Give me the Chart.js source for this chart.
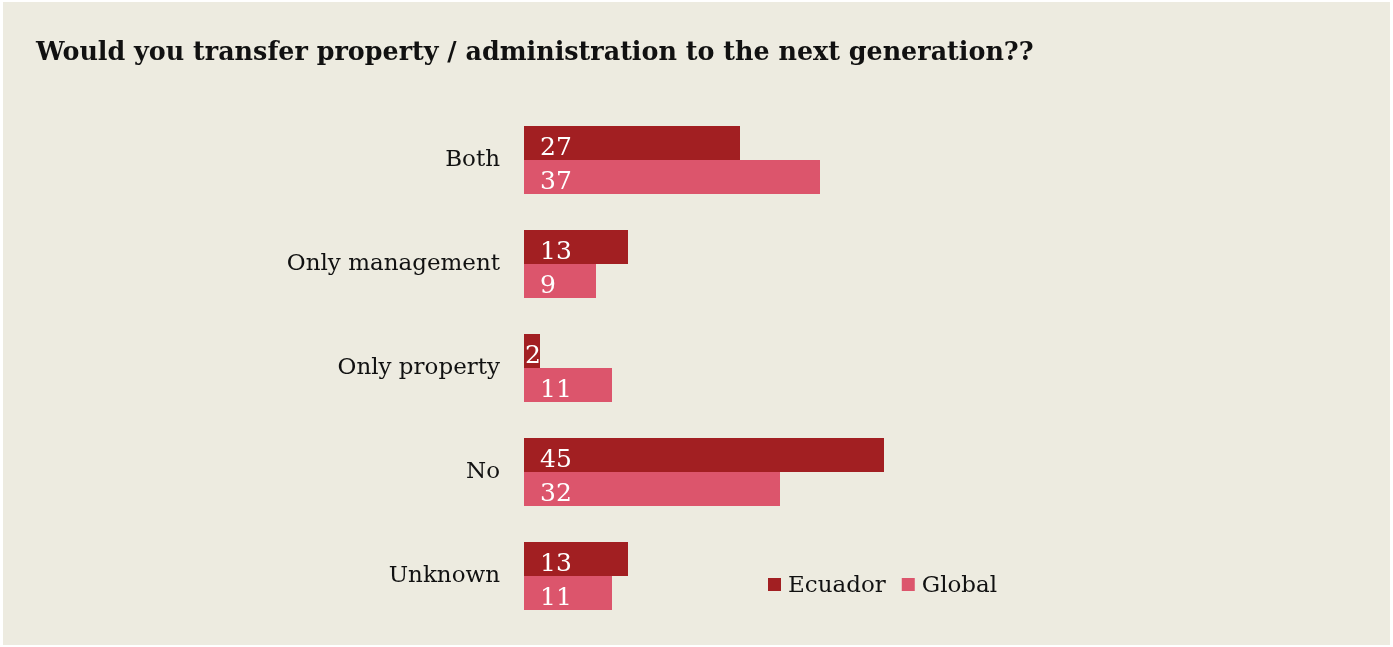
<!DOCTYPE html>
<html>
<head>
<meta charset="utf-8">
<script src="https://cdn.jsdelivr.net/npm/chart.js@4"></script>
<style>
  body { margin: 0; background: #fff; }
  #wrap { position: absolute; left: 3px; top: 2px; width: 1387px; height: 643px; background: #edebe0; }
</style>
</head>
<body>
<div id="wrap"><canvas id="chart" width="1387" height="643"></canvas></div>
<script>
titleText = "Would you transfer property / administration to the next generation??";
categories = ["Both", "Only management", "Only property", "No", "Unknown"];
ecuador = [27, 13, 2, 45, 13];
global = [37, 9, 11, 32, 11];
seriesNames = ["Ecuador", "Global"];
seriesColors = ["#a21f22", "#dc556c"];

serif = "Georgia, 'DejaVu Serif', serif";

// title, value labels and legend drawn by hand
const extras = {
    id: "extras",
    afterDatasetsDraw(chart) {
        const c = chart.ctx;
        c.save();
        c.font = "25px " + serif;
        c.fillStyle = "#fff";
        c.textBaseline = "alphabetic";
        chart.data.datasets.forEach((ds, i) => {
            chart.getDatasetMeta(i).data.forEach((bar, j) => {
                const w = bar.x - bar.base;
                const x = bar.base + (w > 40 ? 16 : 1);
                c.fillText(String(ds.data[j]), x, bar.y + 12);
            });
        });
        c.restore();
    },
    afterDraw(chart) {
        const c = chart.ctx;
        c.save();
        c.fillStyle = "#111";
        c.font = "bold 25.4px " + serif;
        c.textBaseline = "alphabetic";
        c.fillText(titleText, 33, 58);

        // legend
        c.font = "23px " + serif;
        let x = 765;
        const y = 583;
        chart.data.datasets.forEach(ds => {
            c.fillStyle = ds.backgroundColor;
            c.fillRect(x, y - 7, 13, 13);
            c.fillStyle = "#111";
            c.textBaseline = "middle";
            c.fillText(ds.label, x + 20, y + 1);
            x += 20 + c.measureText(ds.label).width + 16;
        });
        c.restore();
    }
};

const ctx = document.getElementById('chart');
const chart = new Chart(ctx, {
    type: 'bar',
    data: {
        labels: categories,
        datasets: [
            { label: seriesNames[0], data: ecuador, backgroundColor: seriesColors[0] },
            { label: seriesNames[1], data: global, backgroundColor: seriesColors[1] }
        ]
    },
    options: {
        indexAxis: 'y',
        responsive: false,
        animation: false,
        datasets: {
            bar: { categoryPercentage: 0.654, barPercentage: 1 }
        },
        layout: {
            padding: { left: 0, right: 66, top: 106, bottom: 17 }
        },
        scales: {
            x: {
                display: false,
                min: 0,
                max: 100
            },
            y: {
                grid: { display: false, drawTicks: true, tickLength: 24 },
                border: { display: false },
                afterFit(scale) { scale.width = 521; },
                ticks: {
                    padding: 0,
                    color: "#111",
                    font: { family: serif, size: 23 }
                }
            }
        },
        plugins: {
            legend: { display: false },
            title: { display: false },
            tooltip: { enabled: false }
        }
    },
    plugins: [extras]
});
</script>
</body>
</html>
